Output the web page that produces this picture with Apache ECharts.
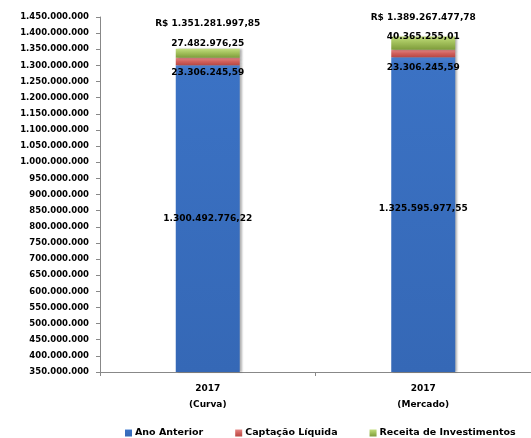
<!DOCTYPE html>
<html><head><meta charset="utf-8">
<script src="https://cdn.jsdelivr.net/npm/echarts@6/dist/echarts.min.js"></script>
<style>html,body{margin:0;padding:0;background:#fff}#c{width:531px;height:438px}</style>
</head><body><div id="c"></div>
<script>
var categories = ['2017\n(Curva)', '2017\n(Mercado)'];
var seriesNames = ['Ano Anterior', 'Captação Líquida', 'Receita de Investimentos'];
var anoAnterior = [1300492776.22, 1325595977.55];
var captacao = [23306245.59, 23306245.59];
var receita = [27482976.25, 40365255.01];
var totals = [1351281997.85, 1389267477.78];
var totalLabels = ['R$ 1.351.281.997,85', 'R$ 1.389.267.477,78'];

function fmtBR(v) {
  var s = v.toFixed(2).split('.');
  return s[0].replace(/\B(?=(\d{3})+(?!\d))/g, '.') + ',' + s[1];
}
function fmtAxis(v) {
  return String(Math.round(v)).replace(/\B(?=(\d{3})+(?!\d))/g, '.');
}
var FONT = 'DejaVu Sans';
var chart = echarts.init(document.getElementById('c'), null, {renderer: 'canvas'});
var shadow = {shadowColor: 'rgba(0,0,0,0.3)', shadowOffsetX: 2, shadowOffsetY: 0, shadowBlur: 2};
var lbl = {fontFamily: FONT, fontSize: 9, fontWeight: 'bold', color: '#000'};

chart.setOption({
  animation: false,
  grid: {left: 100, right: -2, top: 17, bottom: 66, containLabel: false},
  legend: {
    data: seriesNames, bottom: -5, left: 120, itemWidth: 7, itemHeight: 7, itemGap: 32,
    icon: 'rect',
    textStyle: {fontFamily: FONT, fontSize: 9.5, fontWeight: 'bold', color: '#000', padding: [0, 0, 0, -2]}
  },
  xAxis: {
    type: 'category', data: categories,
    axisLine: {lineStyle: {color: '#888', width: 1}},
    axisTick: {show: true, length: 4, lineStyle: {color: '#888'}},
    axisLabel: {fontFamily: FONT, fontSize: 9, fontWeight: 'bold', color: '#000', lineHeight: 16, margin: 9}
  },
  yAxis: {
    type: 'value', min: 350000000, max: 1450000000, interval: 50000000,
    splitLine: {show: false},
    axisLine: {show: true, lineStyle: {color: '#888', width: 1}},
    axisTick: {show: true, length: 4, lineStyle: {color: '#888'}},
    axisLabel: {fontFamily: FONT, fontSize: 8.5, fontWeight: 'bold', color: '#000', margin: 11, formatter: fmtAxis}
  },
  series: [
    {
      name: seriesNames[0], type: 'bar', stack: 't', barWidth: 64,
      data: [
        {value: anoAnterior[0]},
        {value: anoAnterior[1], label: {offset: [0, -6]}}
      ],
      itemStyle: Object.assign({color: new echarts.graphic.LinearGradient(0, 0, 0, 1, [
        {offset: 0, color: '#4b82d2'}, {offset: 0.02, color: '#3b72c4'}, {offset: 1, color: '#3568b6'}])}, shadow),
      label: Object.assign({show: true, position: 'inside', formatter: function (p) { return fmtBR(p.value); }}, lbl)
    },
    {
      name: seriesNames[1], type: 'bar', stack: 't', barWidth: 64,
      data: [
        {value: captacao[0]},
        {value: captacao[1], label: {distance: 6}}
      ],
      itemStyle: Object.assign({color: new echarts.graphic.LinearGradient(0, 0, 0, 1, [
        {offset: 0, color: '#e58a88'}, {offset: 0.5, color: '#d0605c'}, {offset: 1, color: '#b84844'}])}, shadow),
      label: Object.assign({show: true, position: 'bottom', distance: 3, formatter: function (p) { return fmtBR(p.value); }}, lbl)
    },
    {
      name: seriesNames[2], type: 'bar', stack: 't', barWidth: 64,
      data: [
        {value: receita[0]},
        {value: receita[1], label: {position: 'insideTop', distance: -4}}
      ],
      itemStyle: Object.assign({color: new echarts.graphic.LinearGradient(0, 0, 0, 1, [
        {offset: 0, color: '#c2dd7e'}, {offset: 0.4, color: '#a6c45f'}, {offset: 1, color: '#7e9c3b'}])}, shadow),
      label: Object.assign({show: true, position: 'top', distance: 1, formatter: function (p) { return fmtBR(p.value); }}, lbl)
    },
    {
      name: 'Total', type: 'line', data: [
        {value: totals[0], label: {distance: 20}},
        {value: totals[1], label: {distance: 14}}
      ],
      symbol: 'circle', symbolSize: 1, showSymbol: true,
      itemStyle: {color: 'rgba(0,0,0,0)', borderWidth: 0},
      lineStyle: {width: 0, color: 'rgba(0,0,0,0)'},
      label: Object.assign({show: true, position: 'top', formatter: function (p) { return totalLabels[p.dataIndex]; }}, lbl),
      z: 10
    }
  ]
});
</script></body></html>
